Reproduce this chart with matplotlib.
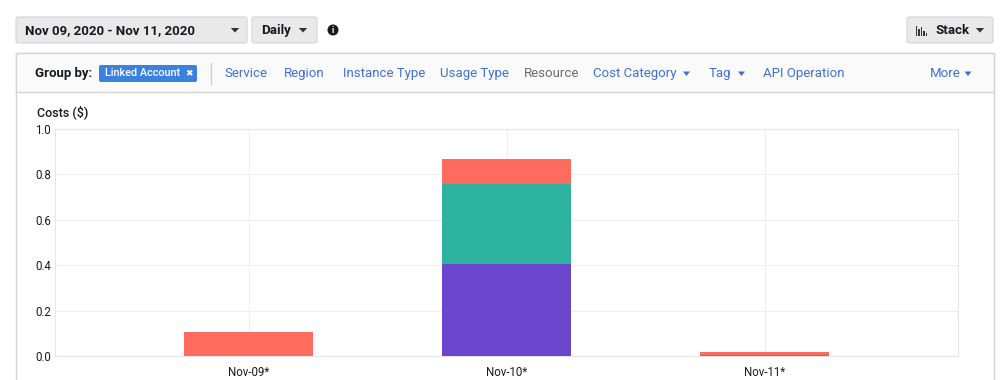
import matplotlib
matplotlib.use('Agg')
import matplotlib.pyplot as plt
from matplotlib.patches import FancyBboxPatch, Rectangle, Circle
import numpy as np

plt.rcParams['font.family'] = ['Roboto', 'DejaVu Sans']

# data
days = ['Nov-09*', 'Nov-10*', 'Nov-11*']
acct_purple = [0.0, 0.405, 0.0]
acct_teal = [0.0, 0.354, 0.0]
acct_blue = [0.0, 0.0, 0.003]
acct_coral = [0.107, 0.107, 0.016]
yticks = [0.0, 0.2, 0.4, 0.6, 0.8, 1.0]

group_links = [('Service', 224, False), ('Region', 284, False), ('Instance Type', 343, False),
               ('Usage Type', 440, False), ('Resource', 524, False), ('Cost Category', 593, True),
               ('Tag', 709, True), ('API Operation', 763, False)]

W, H = 1000, 380
fig = plt.figure(figsize=(W / 100, H / 100), dpi=100)

# overlay axes in pixel coords for the UI chrome
ui = fig.add_axes([0, 0, 1, 1])
ui.set_xlim(0, W)
ui.set_ylim(H, 0)
ui.axis('off')

BTN = '#e9e9e9'
LINK = '#3f6fd6'
DARK = '#16191f'


def button(x0, x1, y0, y1):
    ui.add_patch(FancyBboxPatch((x0, y0), x1 - x0, y1 - y0,
                                boxstyle='round,pad=0,rounding_size=2',
                                fc=BTN, ec='#d5d5d5', lw=0.8))


def caret(x, y, size=4.2, color='#333333'):
    ui.add_patch(plt.Polygon([[x - size, y - 2], [x + size, y - 2], [x, y + 2.5]],
                             closed=True, fc=color, ec='none'))


# top controls
button(16, 247, 17, 43)
ui.text(25, 30.5, 'Nov 09, 2020 - Nov 11, 2020', fontsize=9.5, fontweight='bold',
        color=DARK, va='center', ha='left')
caret(235, 30)
button(252, 317, 17, 43)
ui.text(261, 30.5, 'Daily', fontsize=9.5, fontweight='bold', color=DARK, va='center')
caret(303, 30)
ui.add_patch(Circle((333, 30), 5.5, fc='#1a1a1a', ec='none'))
ui.text(333, 30.5, 'i', fontsize=6.5, fontweight='bold', color='white', ha='center', va='center')
button(907, 993, 17, 43)
for i, hh in enumerate([10, 7, 9, 5, 3]):
    ui.add_patch(Rectangle((916 + i * 2.4, 36 - hh), 1.4, hh, fc='#333333', ec='none'))
ui.text(935, 30.5, 'Stack', fontsize=9.5, fontweight='bold', color=DARK, va='center')
caret(980, 30)

# panel
ui.add_patch(Rectangle((16, 53), 978, 340, fc='white', ec='#d5d5d5', lw=1))
ui.add_patch(Rectangle((16, 53), 978, 39, fc='#fafafa', ec='#d5d5d5', lw=1))
ui.text(35, 73.5, 'Group by:', fontsize=9.5, fontweight='bold', color=DARK, va='center')
ui.add_patch(FancyBboxPatch((99, 65), 98, 17, boxstyle='round,pad=0,rounding_size=2',
                            fc='#3b82e0', ec='none'))
ui.text(105, 73.5, 'Linked Account', fontsize=7.8, fontweight='medium', color='white',
        va='center')
ui.text(189, 73.5, '\u2716', fontsize=6.5, color='white', va='center', ha='center',
        family=['DejaVu Sans'])
ui.plot([211, 211], [63, 84], color='#d0d0d0', lw=1)
for name, x, has_caret in group_links:
    col = '#6b6b6b' if name == 'Resource' else LINK
    t = ui.text(x, 73.5, name, fontsize=9.5, color=col, va='center')
    if has_caret:
        fig.canvas.draw()
        bb = t.get_window_extent()
        caret(bb.x1 + 10, 73.5, size=3.5, color=LINK)
ui.text(930, 73.5, 'More', fontsize=9.5, color=LINK, va='center')
caret(968, 73.5, size=3.5, color=LINK)
ui.text(37, 112, 'Costs ($)', fontsize=9, fontweight='medium', color=DARK, va='center')

# chart
ax = fig.add_axes([55 / W, (H - 356) / H, (958 - 55) / W, (356 - 129) / H])
x = np.arange(len(days))
bw = 0.5
b = np.zeros(len(days))
for vals, c in [(acct_purple, '#6a46cc'), (acct_teal, '#2db2a0'),
                (acct_blue, '#3f8ed0'), (acct_coral, '#ff6b5f')]:
    ax.bar(x, vals, bw, bottom=b, color=c, edgecolor='none', zorder=3)
    b += np.array(vals)

ax.set_xlim(-0.75, 2.75)
ax.set_ylim(0, 1.0)
ax.set_xticks(x)
ax.set_xticklabels(days, fontsize=8.3, color=DARK)
ax.set_yticks(yticks)
ax.set_yticklabels(['%.1f' % v for v in yticks], fontsize=8.3, color=DARK)
ax.tick_params(length=0, pad=3)
ax.tick_params(axis='x', pad=7)
ax.grid(True, color='#eeeeee', lw=0.8, zorder=0)
for s in ax.spines.values():
    s.set_color('#e6e6e6')
    s.set_linewidth(0.8)

fig.savefig('out.png', dpi=100)
